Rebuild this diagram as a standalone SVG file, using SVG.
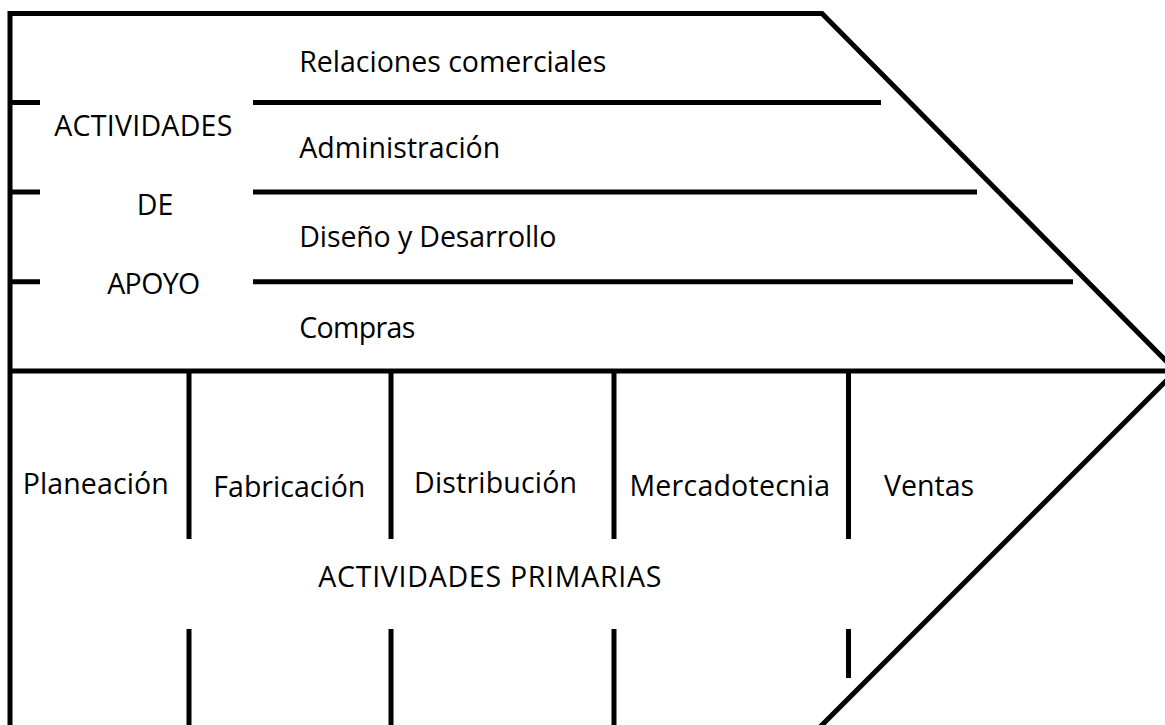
<svg xmlns="http://www.w3.org/2000/svg" width="1165" height="725" viewBox="0 0 1165 725">
<style>
.ln{stroke:#000;stroke-width:5;fill:none;stroke-linecap:butt;stroke-linejoin:miter}
.t{font-family:"Open Sans","Liberation Sans",sans-serif;font-size:28.5px;fill:#000}
.c{text-anchor:middle}
</style>
<rect width="1165" height="725" fill="#fff"/>
<g id="connectors">
<path class="ln" d="M10,730 L10,13.5 L822,13.5 L1176,371 L816,731"/>
<path class="ln" d="M10,371 L1176,371"/>
<path class="ln" d="M10,102.5 H40 M10,192 H40 M10,281.8 H40"/>
<path class="ln" d="M253,102.5 H881 M253,192 H977 M253,281.8 H1073"/>
<path class="ln" d="M189,371 V539 M391,371 V539 M614,371 V539 M848.5,371 V539"/>
<path class="ln" d="M189,629 V725 M391,629 V725 M614,629 V725 M848.5,629 V678"/>
</g>
<g id="apoyo">
<text class="t c" x="143.3" y="136" textLength="178" lengthAdjust="spacing">ACTIVIDADES</text>
<text class="t c" x="155" y="214.5">DE</text>
<text class="t c" x="153.7" y="294" textLength="93" lengthAdjust="spacing">APOYO</text>
</g>
<g id="relaciones"><text class="t" x="299.3" y="71.7" textLength="307" lengthAdjust="spacing">Relaciones comerciales</text></g>
<g id="administracion"><text class="t" x="299.3" y="158.3" textLength="201" lengthAdjust="spacing">Administración</text></g>
<g id="diseno"><text class="t" x="299.3" y="246.7" textLength="257" lengthAdjust="spacing">Diseño y Desarrollo</text></g>
<g id="compras"><text class="t" x="299.3" y="337.7" textLength="116" lengthAdjust="spacing">Compras</text></g>
<g id="planeacion"><text class="t" x="22.7" y="494" textLength="146" lengthAdjust="spacing">Planeación</text></g>
<g id="fabricacion"><text class="t" x="213.3" y="496.7" textLength="152" lengthAdjust="spacing">Fabricación</text></g>
<g id="distribucion"><text class="t" x="414" y="493.3" textLength="163" lengthAdjust="spacing">Distribución</text></g>
<g id="mercadotecnia"><text class="t" x="629.5" y="495.5" textLength="200.5" lengthAdjust="spacing">Mercadotecnia</text></g>
<g id="ventas"><text class="t" x="884" y="495.5">Ventas</text></g>
<g id="primarias"><text class="t" x="318.3" y="587" textLength="343" lengthAdjust="spacing">ACTIVIDADES PRIMARIAS</text></g>
</svg>
